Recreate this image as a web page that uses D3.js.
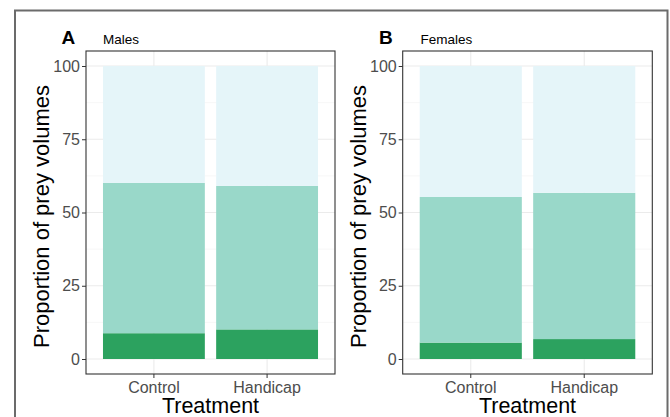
<!DOCTYPE html>
<html><head><meta charset="utf-8">
<script src="https://cdn.jsdelivr.net/npm/d3@7"></script>
<style>body{margin:0;background:#fff}svg{display:block}text{font-family:Arial,"Liberation Sans",sans-serif}</style>
</head><body>
<script>
const treatments = ["Control", "Handicap"];
const panels = ["Males", "Females"];
const panelLetters = ["A", "B"];
// stacked layers bottom -> top
const layers = ["low", "mid", "high"];
const malesLow = [8.8, 10.1];
const malesMid = [51.3, 49.0];
const femalesLow = [5.6, 6.8];
const femalesMid = [49.7, 49.9];
const yTicks = [0, 25, 50, 75, 100];
const yMinor = [12.5, 37.5, 62.5, 87.5];
const colors = ["#2ca25f", "#99d8c9", "#e5f5f9"];

const W = 670, H = 417;
const svg = d3.select("body").append("svg").attr("width", W).attr("height", H);
svg.append("rect").attr("x", 15).attr("y", 10.5).attr("width", 652.5).attr("height", 420)
  .attr("fill", "none").attr("stroke", "#6b6b6b").attr("stroke-width", 2);

const panelData = [
  {low: malesLow, mid: malesMid, x0: 86, x1: 335, lx: 61.5, tx: 103},
  {low: femalesLow, mid: femalesMid, x0: 402.7, x1: 652.3, lx: 379, tx: 420.5}
];
const plotTop = 51, plotBottom = 374;

panelData.forEach((p, pi) => {
  const g = svg.append("g");
  const y = d3.scaleLinear().domain([0, 100]).range([359, 66]);
  const x = d3.scaleBand().domain(treatments).range([p.x0, p.x1]).paddingInner(0.1).paddingOuter(0.15);
  yMinor.forEach(v => g.append("line").attr("x1", p.x0).attr("x2", p.x1).attr("y1", y(v)).attr("y2", y(v)).attr("stroke", "#f2f2f2").attr("stroke-width", 0.6));
  yTicks.forEach(v => g.append("line").attr("x1", p.x0).attr("x2", p.x1).attr("y1", y(v)).attr("y2", y(v)).attr("stroke", "#ebebeb").attr("stroke-width", 1.1));
  treatments.forEach(t => {
    const cx = x(t) + x.bandwidth() / 2;
    g.append("line").attr("x1", cx).attr("x2", cx).attr("y1", plotTop).attr("y2", plotBottom).attr("stroke", "#ebebeb").attr("stroke-width", 1.1);
  });
  const rows = treatments.map((t, i) => ({t, low: p.low[i], mid: p.mid[i], high: 100 - p.low[i] - p.mid[i]}));
  const stack = d3.stack().keys(layers)(rows);
  stack.forEach((s, si) => {
    g.selectAll(null).data(s).enter().append("rect")
      .attr("x", d => x(d.data.t)).attr("width", x.bandwidth())
      .attr("y", d => y(d[1])).attr("height", d => y(d[0]) - y(d[1]))
      .attr("fill", colors[si]);
  });
  g.append("rect").attr("x", p.x0).attr("y", plotTop).attr("width", p.x1 - p.x0).attr("height", plotBottom - plotTop)
    .attr("fill", "none").attr("stroke", "#333").attr("stroke-width", 1.1);
  const ya = g.append("g").attr("transform", `translate(${p.x0},0)`)
    .call(d3.axisLeft(y).tickValues(yTicks).tickSize(4).tickPadding(2));
  ya.select(".domain").remove();
  ya.selectAll("line").attr("stroke", "#333");
  ya.selectAll("text").attr("fill", "#4d4d4d").style("font-size", "16px");
  const xa = g.append("g").attr("transform", `translate(0,${plotBottom})`)
    .call(d3.axisBottom(x).tickSize(4).tickPadding(4));
  xa.select(".domain").remove();
  xa.selectAll("line").attr("stroke", "#333");
  xa.selectAll("text").attr("fill", "#4d4d4d").style("font-size", "16px");
  g.append("text").attr("x", (p.x0 + p.x1) / 2).attr("y", 413).attr("text-anchor", "middle")
    .style("font-size", "21.5px").attr("fill", "#000").text("Treatment");
  g.append("text").attr("transform", `translate(${p.x0 - 37},216.5) rotate(-90)`)
    .attr("text-anchor", "middle").style("font-size", "22px").attr("fill", "#000").text("Proportion of prey volumes");
  g.append("text").attr("x", p.lx).attr("y", 43.5).style("font-size", "19px").style("font-weight", "bold").text(panelLetters[pi]);
  g.append("text").attr("x", p.tx).attr("y", 44).style("font-size", "13.5px").text(panels[pi]);
});
</script>
</body></html>
